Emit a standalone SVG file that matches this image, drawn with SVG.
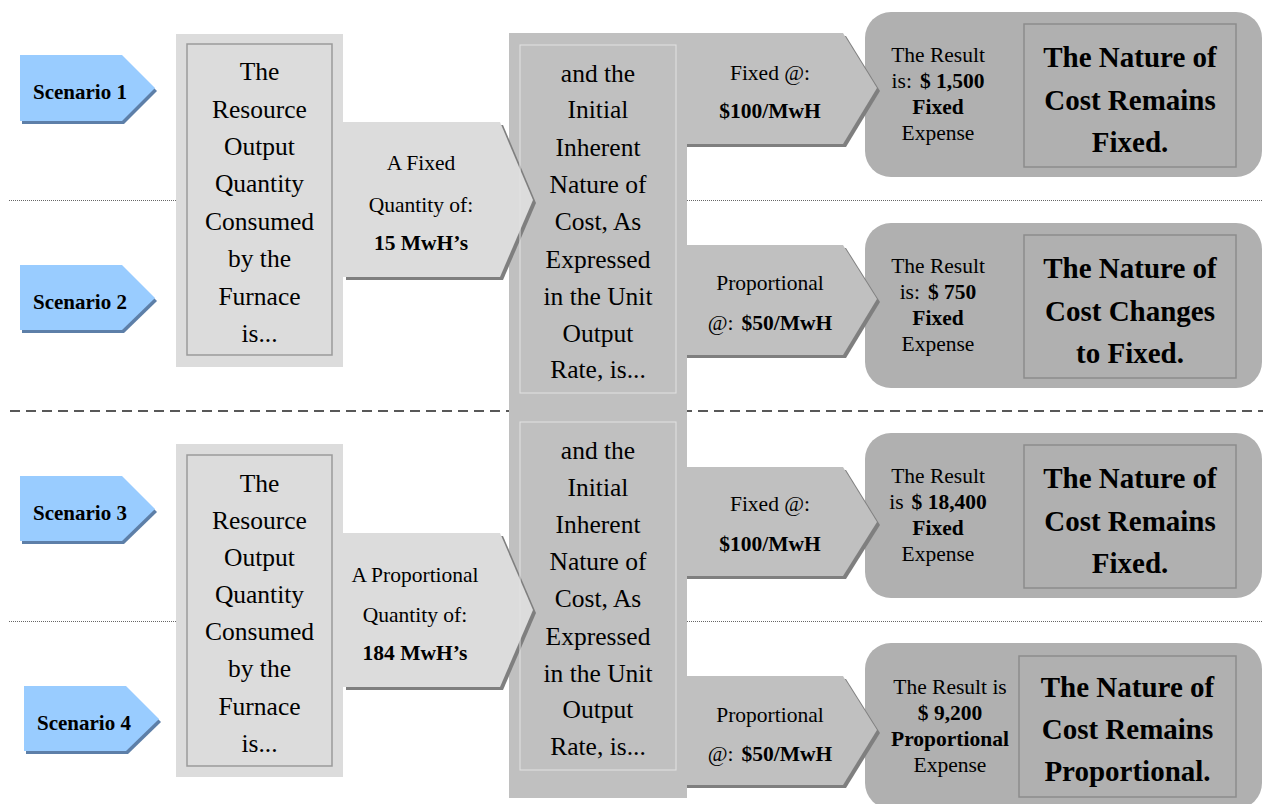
<svg xmlns="http://www.w3.org/2000/svg" width="1263" height="804" viewBox="0 0 1263 804">
<style>
text{font-family:"Liberation Serif","Times New Roman",serif;fill:#000;text-anchor:middle}
.big{font-size:25.5px}
.mid{font-size:21.5px}
.b{font-weight:bold}
.nat{font-size:29px;font-weight:bold}
.scen{font-size:21px;font-weight:bold}
.dot{stroke:#666;stroke-width:1;stroke-dasharray:1 1;fill:none}
.dash{stroke:#222;stroke-width:1.6;stroke-dasharray:10 6;fill:none}
.scn{fill:#99ccff}
.scs{fill:#5d7fa8}
.lbox{fill:#dcdcdc}
.lin{fill:none;stroke:#9a9a9a;stroke-width:1.5}
.col{fill:#c0c0c0}
.cin{fill:none;stroke:#e2e2e2;stroke-width:1}
.shd{fill:#7f7f7f}
.la{fill:#dcdcdc}
.ra{fill:#c0c0c0}
.res{fill:#b0b0b0}
.rin{fill:none;stroke:#8c8c8c;stroke-width:1.5}
</style>
<g id="connectors">
<line class="dot" x1="9" y1="200.5" x2="1263" y2="200.5"/>
<line class="dot" x1="9" y1="621.5" x2="1263" y2="621.5"/>
<line class="dash" x1="10" y1="411" x2="1263" y2="411"/>
</g>
<g id="scenario1">
<polygon class="scs" points="22,58 124,58 157,91 124,124 22,124"/>
<polygon class="scn" points="20,55 122,55 155,88 122,121 20,121"/>
<text class="scen" x="80" y="99">Scenario 1</text>
</g>
<g id="scenario2">
<polygon class="scs" points="22,268 124,268 157,301 124,333 22,333"/>
<polygon class="scn" points="20,265 122,265 155,298 122,330 20,330"/>
<text class="scen" x="80" y="309">Scenario 2</text>
</g>
<g id="scenario3">
<polygon class="scs" points="22,479 124,479 157,512 124,544 22,544"/>
<polygon class="scn" points="20,476 122,476 155,509 122,541 20,541"/>
<text class="scen" x="80" y="520">Scenario 3</text>
</g>
<g id="scenario4">
<polygon class="scs" points="26,689 128,689 161,722 128,754 26,754"/>
<polygon class="scn" points="24,686 126,686 159,719 126,751 24,751"/>
<text class="scen" x="84" y="730">Scenario 4</text>
</g>
<g id="column">
<rect class="col" x="509" y="33" width="178" height="765"/>
</g>
<g id="resource1">
<rect class="lbox" x="176" y="34" width="167" height="333"/>
<rect class="lin" x="187" y="44" width="145" height="311"/>
<text class="big" x="259.5"><tspan x="259.5" y="80">The</tspan><tspan x="259.5" y="117.5">Resource</tspan><tspan x="259.5" y="155">Output</tspan><tspan x="259.5" y="192">Quantity</tspan><tspan x="259.5" y="230">Consumed</tspan><tspan x="259.5" y="267">by the</tspan><tspan x="259.5" y="305">Furnace</tspan><tspan x="259.5" y="342">is...</tspan></text>
</g>
<g id="resource2">
<rect class="lbox" x="176" y="444" width="167" height="333"/>
<rect class="lin" x="187" y="455" width="145" height="311"/>
<text class="big" x="259.5"><tspan x="259.5" y="492">The</tspan><tspan x="259.5" y="529">Resource</tspan><tspan x="259.5" y="566">Output</tspan><tspan x="259.5" y="603">Quantity</tspan><tspan x="259.5" y="640">Consumed</tspan><tspan x="259.5" y="677">by the</tspan><tspan x="259.5" y="715">Furnace</tspan><tspan x="259.5" y="752">is...</tspan></text>
</g>
<g id="quantity1">
<polygon class="shd" points="346,125 503,125 536,203 503,280 346,280"/>
<polygon class="la" points="343,122 500,122 533,200 500,277 343,277"/>
<text class="mid" x="421" y="170">A Fixed</text>
<text class="mid" x="421" y="212">Quantity of:</text>
<text class="mid b" x="421" y="250">15 MwH’s</text>
</g>
<g id="quantity2">
<polygon class="shd" points="346,536 503,536 536,613 503,690 346,690"/>
<polygon class="la" points="343,533 500,533 533,610 500,687 343,687"/>
<text class="mid" x="415" y="582">A Proportional</text>
<text class="mid" x="415" y="622">Quantity of:</text>
<text class="mid b" x="415" y="660">184 MwH’s</text>
</g>
<g id="nature1">
<rect class="cin" x="520" y="45" width="156" height="348"/>
<text class="big"><tspan x="598" y="82">and the</tspan><tspan x="598" y="118">Initial</tspan><tspan x="598" y="156">Inherent</tspan><tspan x="598" y="193">Nature of</tspan><tspan x="598" y="230">Cost, As</tspan><tspan x="598" y="268">Expressed</tspan><tspan x="598" y="305">in the Unit</tspan><tspan x="598" y="342">Output</tspan><tspan x="598" y="378">Rate, is...</tspan></text>
</g>
<g id="nature2">
<rect class="cin" x="520" y="422" width="156" height="348"/>
<text class="big"><tspan x="598" y="459">and the</tspan><tspan x="598" y="496">Initial</tspan><tspan x="598" y="533">Inherent</tspan><tspan x="598" y="570">Nature of</tspan><tspan x="598" y="607">Cost, As</tspan><tspan x="598" y="645">Expressed</tspan><tspan x="598" y="682">in the Unit</tspan><tspan x="598" y="718">Output</tspan><tspan x="598" y="755">Rate, is...</tspan></text>
</g>
<g id="result1">
<rect class="res" x="865" y="12" width="397" height="165" rx="26"/>
<rect class="rin" x="1024" y="24" width="212" height="143"/>
<text class="mid" x="938" y="62">The Result</text>
<text class="mid" x="938" y="88">is:<tspan class="b" dx="8">$ 1,500</tspan></text>
<text class="mid b" x="938" y="114">Fixed</text>
<text class="mid" x="938" y="140">Expense</text>
<text class="nat"><tspan x="1130" y="67">The Nature of</tspan><tspan x="1130" y="110">Cost Remains</tspan><tspan x="1130" y="152">Fixed.</tspan></text>
</g>
<g id="result2">
<rect class="res" x="865" y="223" width="397" height="165" rx="26"/>
<rect class="rin" x="1024" y="235" width="212" height="143"/>
<text class="mid" x="938" y="273">The Result</text>
<text class="mid" x="938" y="299">is:<tspan class="b" dx="8">$ 750</tspan></text>
<text class="mid b" x="938" y="325">Fixed</text>
<text class="mid" x="938" y="351">Expense</text>
<text class="nat"><tspan x="1130" y="278">The Nature of</tspan><tspan x="1130" y="321">Cost Changes</tspan><tspan x="1130" y="363">to Fixed.</tspan></text>
</g>
<g id="result3">
<rect class="res" x="865" y="433" width="397" height="165" rx="26"/>
<rect class="rin" x="1024" y="445" width="212" height="143"/>
<text class="mid" x="938" y="483">The Result</text>
<text class="mid" x="938" y="509">is<tspan class="b" dx="8">$ 18,400</tspan></text>
<text class="mid b" x="938" y="535">Fixed</text>
<text class="mid" x="938" y="561">Expense</text>
<text class="nat"><tspan x="1130" y="488">The Nature of</tspan><tspan x="1130" y="531">Cost Remains</tspan><tspan x="1130" y="573">Fixed.</tspan></text>
</g>
<g id="result4">
<rect class="res" x="865" y="643" width="397" height="166" rx="26"/>
<rect class="rin" x="1019" y="656" width="217" height="141"/>
<text class="mid" x="950" y="694">The Result is</text>
<text class="mid b" x="950" y="720">$ 9,200</text>
<text class="mid b" x="950" y="746">Proportional</text>
<text class="mid" x="950" y="772">Expense</text>
<text class="nat"><tspan x="1127.5" y="697">The Nature of</tspan><tspan x="1127.5" y="739">Cost Remains</tspan><tspan x="1127.5" y="781">Proportional.</tspan></text>
</g>
<g id="rate1">
<polygon class="shd" points="687,36 846,36 880,91 846,147 687,147"/>
<polygon class="ra" points="687,33 843,33 877,88 843,144 687,144"/>
<text class="mid" x="770" y="80">Fixed @:</text>
<text class="mid b" x="770" y="118">$100/MwH</text>
</g>
<g id="rate2">
<polygon class="shd" points="687,248 846,248 880,302 846,358 687,358"/>
<polygon class="ra" points="687,245 843,245 877,299 843,355 687,355"/>
<text class="mid" x="770" y="290">Proportional</text>
<text class="mid" x="770" y="330">@:<tspan class="b" dx="8">$50/MwH</tspan></text>
</g>
<g id="rate3">
<polygon class="shd" points="687,470 846,470 880,525 846,579 687,579"/>
<polygon class="ra" points="687,467 843,467 877,522 843,576 687,576"/>
<text class="mid" x="770" y="511">Fixed @:</text>
<text class="mid b" x="770" y="551">$100/MwH</text>
</g>
<g id="rate4">
<polygon class="shd" points="687,679 846,679 880,733 846,788 687,788"/>
<polygon class="ra" points="687,676 843,676 877,730 843,785 687,785"/>
<text class="mid" x="770" y="722">Proportional</text>
<text class="mid" x="770" y="761">@:<tspan class="b" dx="8">$50/MwH</tspan></text>
</g>
</svg>
